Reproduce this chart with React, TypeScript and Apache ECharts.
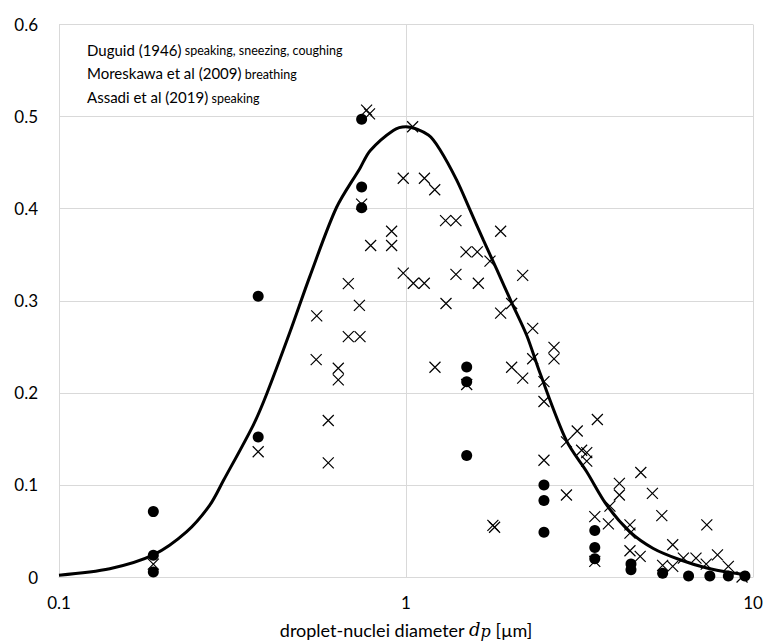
import React, { useEffect, useRef } from "react";
import * as echarts from "echarts";

// Fitted size distribution curve (diameter in µm, fraction)
const curveX = [0.1, 0.14, 0.187, 0.233, 0.272, 0.298, 0.363, 0.397, 0.463, 0.529, 0.63, 0.737, 0.788, 0.919, 1.0, 1.16, 1.253, 1.4, 1.528, 1.67, 1.826, 2.016, 2.23, 2.43, 2.9, 3.32, 3.79, 4.42, 5.16, 6.16, 7.36, 8.76, 9.6];
const curveY = [0.002, 0.009, 0.024, 0.049, 0.078, 0.105, 0.165, 0.199, 0.266, 0.327, 0.401, 0.444, 0.463, 0.485, 0.489, 0.48, 0.464, 0.431, 0.399, 0.366, 0.334, 0.298, 0.262, 0.222, 0.148, 0.114, 0.078, 0.049, 0.031, 0.0187, 0.0097, 0.0043, 0.0025];

// Binned measurements (filled circles)
const dotX = [0.187, 0.187, 0.187, 0.375, 0.375, 0.745, 0.745, 0.745, 1.496, 1.496, 1.496, 2.498, 2.498, 2.498, 3.5, 3.5, 3.5, 4.45, 4.45, 5.49, 6.52, 7.51, 8.49, 9.48];
const dotY = [0.071, 0.0235, 0.0055, 0.305, 0.152, 0.497, 0.4235, 0.401, 0.228, 0.212, 0.132, 0.0998, 0.083, 0.0486, 0.0505, 0.032, 0.0198, 0.014, 0.008, 0.004, 0.001, 0.001, 0.001, 0.001];

// Individual measurements (crosses)
const crossX = [0.187, 0.375, 0.745, 0.77, 0.785, 1.045, 0.982, 1.13, 1.21, 0.909, 0.909, 0.791, 1.3, 1.393, 0.982, 1.05, 1.129, 0.682, 1.874, 1.489, 1.605, 1.746, 1.393, 1.616, 2.169, 1.304, 2.016, 1.874, 2.318, 2.67, 2.67, 2.318, 1.212, 2.016, 2.169, 0.734, 0.553, 0.682, 0.737, 0.551, 0.638, 0.638, 0.597, 0.597, 1.496, 2.498, 2.498, 2.498, 1.78, 1.8, 2.9, 3.115, 2.9, 3.56, 3.207, 3.318, 3.318, 3.5, 3.5, 3.83, 4.12, 4.12, 3.87, 4.75, 5.13, 5.46, 4.42, 4.42, 4.42, 4.73, 5.87, 5.49, 5.87, 6.3, 6.85, 7.36, 7.9, 8.49, 7.33, 9.3];
const crossY = [0.014, 0.136, 0.405, 0.507, 0.503, 0.489, 0.433, 0.433, 0.4205, 0.3755, 0.36, 0.36, 0.387, 0.387, 0.33, 0.319, 0.319, 0.3186, 0.3755, 0.353, 0.353, 0.343, 0.3286, 0.319, 0.3276, 0.297, 0.297, 0.2865, 0.27, 0.2494, 0.2368, 0.237, 0.2278, 0.2278, 0.216, 0.295, 0.2836, 0.261, 0.261, 0.236, 0.2267, 0.214, 0.17, 0.124, 0.209, 0.2122, 0.1906, 0.1268, 0.056, 0.054, 0.089, 0.1586, 0.1467, 0.171, 0.1376, 0.135, 0.1258, 0.0656, 0.017, 0.0577, 0.1016, 0.089, 0.077, 0.1135, 0.0908, 0.0667, 0.0566, 0.0476, 0.0285, 0.0224, 0.035, 0.0126, 0.0115, 0.0205, 0.0205, 0.0566, 0.0241, 0.0115, 0.014, 0.0];

const sources = ["Duguid (1946)", "Moreskawa et al (2009)", "Assadi et al (2019)"];
const activities = ["speaking, sneezing, coughing", "breathing", "speaking"];

const FONT = "Lato, 'Open Sans', sans-serif";
const GRID = "#d9d9d9";

export default function App() {
  const ref = useRef<HTMLDivElement>(null);

  useEffect(() => {
    if (!ref.current) return;
    const chart = echarts.init(ref.current, undefined, { renderer: "svg" });
    const pairs = (xs: number[], ys: number[]) => xs.map((x, i) => [x, ys[i]]);

    chart.setOption({
      animation: false,
      backgroundColor: "#fff",
      textStyle: { fontFamily: FONT },
      grid: { left: 59, right: 13, top: 24.5, bottom: 65 },
      xAxis: {
        type: "log",
        logBase: 10,
        min: 0.1,
        max: 10,
        axisLine: { show: true, lineStyle: { color: GRID, width: 1 } },
        axisTick: { show: false },
        minorTick: { show: false },
        splitLine: { show: true, lineStyle: { color: GRID, width: 1 } },
        axisLabel: { color: "#000", fontSize: 17, fontFamily: FONT, margin: 17 },
        name: "{t|droplet-nuclei diameter }{d|d}{p|p}{t| [µm]}",
        nameLocation: "middle",
        nameGap: 43,
        nameTextStyle: {
          rich: {
            t: { fontSize: 18, fontFamily: FONT, color: "#000" },
            d: { fontSize: 18, fontFamily: "'DejaVu Serif', serif", fontStyle: "italic", color: "#000" },
            p: { fontSize: 16, fontFamily: "'DejaVu Serif', serif", fontStyle: "italic", color: "#000", padding: [3, 0, 0, 0] },
          },
        },
      },
      yAxis: {
        type: "value",
        min: 0,
        max: 0.6,
        interval: 0.1,
        axisLine: { show: true, lineStyle: { color: GRID, width: 1 } },
        axisTick: { show: false },
        splitLine: { show: true, lineStyle: { color: GRID, width: 1 } },
        axisLabel: {
          color: "#000",
          fontSize: 17,
          fontFamily: FONT,
          margin: 21,
          formatter: (v: number) => (v === 0 ? "0" : v.toFixed(1)),
        },
      },
      graphic: sources.map((s, i) => ({
        type: "text",
        x: 87,
        y: [47.5, 71, 95][i],
        style: {
          text: `{a|${s}} {b|${activities[i]}}`,
          verticalAlign: "middle",
          rich: {
            a: { fontSize: 15, fontFamily: FONT, fill: "#000", verticalAlign: "bottom", lineHeight: 19 },
            b: { fontSize: 12.5, fontFamily: FONT, fill: "#000", verticalAlign: "bottom", lineHeight: 19 },
          },
        },
      })),
      series: [
        {
          type: "scatter",
          name: "crosses",
          data: pairs(crossX, crossY),
          symbol: "path://M0,0L10,10M10,0L0,10",
          symbolSize: 11,
          itemStyle: { color: "transparent", borderColor: "#000", borderWidth: 1.2, opacity: 1 },
          z: 2,
        },
        {
          type: "line",
          name: "fit",
          data: pairs(curveX, curveY),
          smooth: 0.3,
          showSymbol: false,
          lineStyle: { color: "#000", width: 3 },
          z: 3,
        },
        {
          type: "scatter",
          name: "dots",
          data: pairs(dotX, dotY),
          symbol: "circle",
          symbolSize: 11,
          itemStyle: { color: "#000", opacity: 1 },
          z: 4,
        },
      ],
    });
    return () => chart.dispose();
  }, []);

  return (
    <div
      ref={ref}
      style={{ position: "fixed", left: 0, top: 0, width: 766, height: 644, background: "#fff" }}
    />
  );
}
